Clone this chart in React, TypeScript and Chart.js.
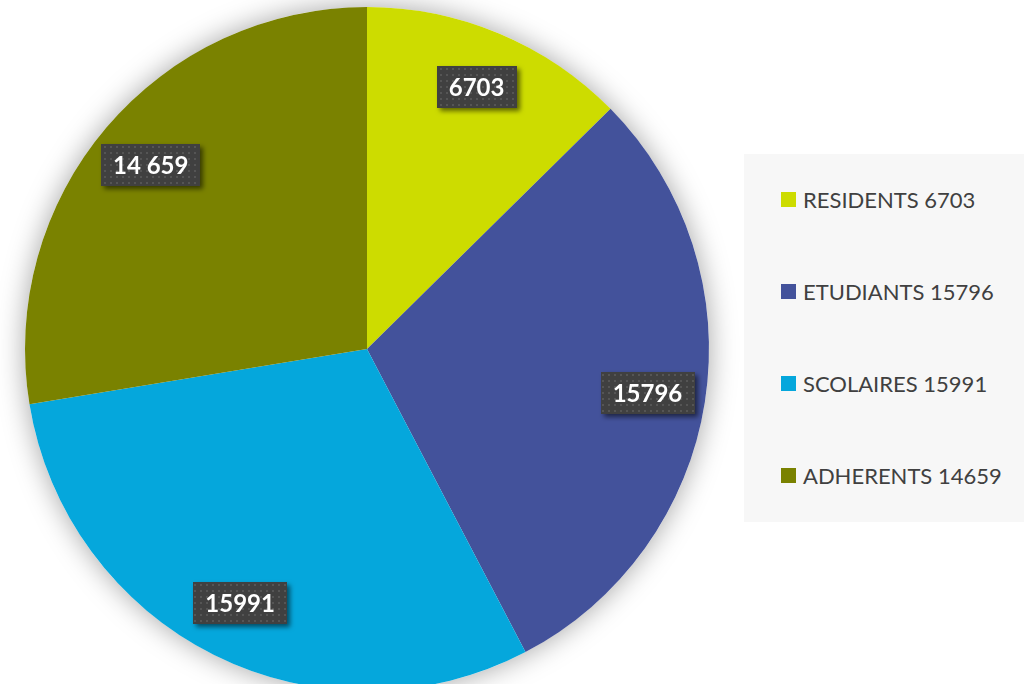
import React, { useEffect, useRef } from "react";
import { Chart, registerables } from "chart.js";

Chart.register(...registerables);

const categories = ["RESIDENTS", "ETUDIANTS", "SCOLAIRES", "ADHERENTS"];
const values = [6703, 15796, 15991, 14659];
const sliceLabels = ["6703", "15796", "15991", "14 659"];
const legendLabels = ["RESIDENTS 6703", "ETUDIANTS 15796", "SCOLAIRES 15991", "ADHERENTS 14659"];
const colors = ["#cddc00", "#43529b", "#05a7dc", "#7a8200"];

const pieShadow = {
  id: "pieShadow",
  beforeDatasetsDraw(chart: any) {
    const arc = chart.getDatasetMeta(0).data[0];
    if (!arc) return;
    const { x, y, outerRadius } = arc.getProps(["x", "y", "outerRadius"], true);
    const ctx = chart.ctx;
    ctx.save();
    ctx.shadowColor = "rgba(0,0,0,0.36)";
    ctx.shadowBlur = 28;
    ctx.beginPath();
    ctx.arc(x, y, outerRadius, 0, Math.PI * 2);
    ctx.fillStyle = "#ffffff";
    ctx.fill();
    ctx.restore();
  },
};

let patternCache: CanvasPattern | null = null;
function getPattern(ctx: CanvasRenderingContext2D) {
  if (patternCache) return patternCache;
  const c = document.createElement("canvas");
  c.width = 6;
  c.height = 6;
  const p = c.getContext("2d")!;
  p.fillStyle = "#404040";
  p.fillRect(0, 0, 6, 6);
  p.fillStyle = "#555555";
  p.fillRect(2, 2, 2, 2);
  patternCache = ctx.createPattern(c, "repeat");
  return patternCache;
}

const boxLabels = {
  id: "boxLabels",
  afterDatasetsDraw(chart: any) {
    const ctx: CanvasRenderingContext2D = chart.ctx;
    const meta = chart.getDatasetMeta(0);
    meta.data.forEach((arc: any, i: number) => {
      const { x, y, startAngle, endAngle, outerRadius } = arc.getProps(
        ["x", "y", "startAngle", "endAngle", "outerRadius"],
        true
      );
      const mid = (startAngle + endAngle) / 2;
      const r = outerRadius * 0.83;
      const cx = x + Math.cos(mid) * r;
      const cy = y + Math.sin(mid) * r;
      const text = sliceLabels[i];
      const font = "bold 24px Lato, 'Open Sans', sans-serif";
      ctx.save();
      ctx.font = font;
      const tw = ctx.measureText(text).width;
      const w = tw + 24;
      const h = 42;
      ctx.shadowColor = "rgba(0,0,0,0.55)";
      ctx.shadowBlur = 5;
      ctx.shadowOffsetX = 3;
      ctx.shadowOffsetY = 3;
      ctx.fillStyle = getPattern(ctx) || "#404040";
      ctx.fillRect(Math.round(cx - w / 2), Math.round(cy - h / 2), Math.round(w), h);
      ctx.restore();
      ctx.save();
      ctx.font = font;
      ctx.fillStyle = "#ffffff";
      ctx.textAlign = "center";
      ctx.textBaseline = "middle";
      ctx.fillText(text, cx, cy + 1);
      ctx.restore();
    });
  },
};

export default function App() {
  const ref = useRef<HTMLCanvasElement>(null);

  useEffect(() => {
    if (!ref.current) return;
    const chart = new Chart(ref.current, {
      type: "pie",
      data: {
        labels: categories,
        datasets: [
          {
            data: values,
            backgroundColor: colors,
            borderWidth: 0,
          },
        ],
      },
      options: {
        responsive: false,
        animation: false,
        layout: { padding: { top: 7, left: 25, right: 315, bottom: 0 } },
        plugins: {
          legend: { display: false },
          tooltip: { enabled: false },
        },
      },
      plugins: [pieShadow, boxLabels],
    });
    return () => chart.destroy();
  }, []);

  return (
    <div
      style={{
        position: "fixed",
        left: 0,
        top: 0,
        width: 1024,
        height: 684,
        overflow: "hidden",
        background: "#ffffff",
      }}
    >
      <canvas ref={ref} width={1024} height={691} style={{ position: "absolute", left: 0, top: 0 }} />
      <div
        style={{
          position: "absolute",
          left: 744,
          top: 154,
          width: 280,
          height: 368,
          background: "#f7f7f7",
          fontFamily: "Lato, 'Open Sans', sans-serif",
          fontSize: 22,
          color: "#404040",
        }}
      >
        {legendLabels.map((t, i) => (
          <div
            key={t}
            style={{
              position: "absolute",
              left: 37,
              top: 45 + i * 92.3 - 13,
              height: 26,
              display: "flex",
              alignItems: "center",
              whiteSpace: "nowrap",
            }}
          >
            <span
              style={{
                display: "inline-block",
                width: 15,
                height: 15,
                background: colors[i],
                marginRight: 7,
              }}
            />
            <span>{t}</span>
          </div>
        ))}
      </div>
    </div>
  );
}
